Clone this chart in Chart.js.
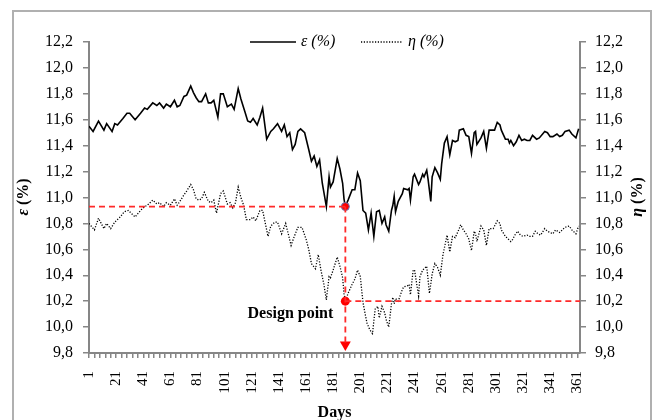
<!DOCTYPE html>
<html lang="en">
<head>
    <meta charset="UTF-8">
    <title>Efficiency over the year</title>
    <script src="https://cdn.jsdelivr.net/npm/chart.js@4"></script>
    <style>
        body { margin: 0; background: #fff; }
        #wrap { position: relative; width: 656px; height: 420px; overflow: hidden; }
        #frame { position: absolute; left: 12px; top: 10px; width: 640px; height: 440px; border: 2px solid #b0b0b0; box-sizing: border-box; }
        #chart { position: absolute; left: 0; top: 0; }
    </style>
</head>
<body>
<div id="wrap">
    <div id="frame"></div>
    <canvas id="chart" width="656" height="420"></canvas>
</div>
<script>
// epsilon (%), by day
const epsDays = [1,4,8,12,14,18,20,22,26,29,31,35,39,42,44,48,51,53,56,58,61,64,66,68,71,73,76,78,80,82,84,87,89,91,93,96,98,100,103,106,108,111,113,116,118,120,122,125,127,129,132,135,137,140,143,145,147,149,151,153,155,157,160,163,165,167,169,171,173,176,178,179,181,184,186,188,189,190,192,195,197,199,201,203,205,207,209,211,213,215,217,219,220,222,224,225,226,227,229,232,233,236,237,238,240,241,244,245,247,248,250,251,253,254,256,258,260,261,263,265,267,269,271,273,274,277,279,281,283,285,286,287,290,292,294,296,298,300,302,304,305,308,310,311,312,314,316,318,320,322,324,326,328,331,333,337,339,341,343,346,348,350,352,355,357,360,362];
const epsVals = [11.55,11.51,11.59,11.52,11.57,11.51,11.57,11.56,11.61,11.65,11.65,11.60,11.65,11.69,11.68,11.73,11.71,11.73,11.69,11.72,11.70,11.75,11.70,11.71,11.78,11.79,11.86,11.81,11.77,11.74,11.74,11.80,11.73,11.73,11.75,11.62,11.80,11.80,11.70,11.72,11.68,11.84,11.76,11.66,11.59,11.58,11.61,11.56,11.62,11.69,11.45,11.51,11.53,11.57,11.51,11.56,11.47,11.50,11.37,11.41,11.51,11.53,11.50,11.37,11.28,11.32,11.24,11.29,11.11,10.93,11.16,11.08,11.12,11.30,11.22,11.11,10.99,10.93,10.98,11.06,11.06,11.19,11.13,10.90,10.88,10.75,10.88,10.70,10.89,10.90,10.80,10.85,10.79,10.74,10.90,10.94,11.01,10.89,10.97,11.03,11.07,11.06,11.07,10.98,11.16,11.18,11.10,11.12,11.18,11.16,11.21,11.14,10.97,11.16,11.23,11.19,11.14,11.26,11.42,11.47,11.33,11.44,11.43,11.44,11.52,11.53,11.48,11.47,11.34,11.50,11.51,11.41,11.46,11.51,11.38,11.52,11.52,11.52,11.58,11.56,11.52,11.45,11.45,11.42,11.44,11.40,11.43,11.48,11.44,11.45,11.44,11.44,11.48,11.45,11.46,11.51,11.50,11.47,11.47,11.49,11.47,11.48,11.51,11.52,11.49,11.46,11.53];

// eta (%), by day
const etaDays = [1,5,8,12,14,17,20,24,27,30,35,39,42,44,48,51,53,56,58,61,64,66,68,71,73,76,78,80,82,84,86,89,91,93,95,98,100,103,105,107,109,111,113,115,117,120,122,124,127,129,131,133,135,138,140,143,146,150,152,155,158,161,163,165,168,170,172,174,176,178,179,181,184,186,188,189,190,192,195,197,199,201,203,205,206,208,210,212,214,215,217,219,220,222,224,225,226,227,229,232,233,236,237,238,240,241,244,245,247,250,252,254,256,258,260,262,265,267,269,271,274,275,277,279,281,283,285,286,287,290,292,294,296,299,300,302,304,305,308,310,312,313,315,317,319,321,324,326,328,330,332,334,337,339,341,343,345,348,350,352,355,357,360,362];
const etaVals = [10.80,10.75,10.84,10.76,10.80,10.76,10.81,10.85,10.89,10.90,10.85,10.90,10.93,10.94,10.98,10.95,10.96,10.93,10.96,10.94,10.99,10.94,10.97,11.02,11.05,11.10,11.06,10.99,10.98,10.99,11.04,10.97,10.96,10.98,10.88,11.03,11.05,10.95,10.96,10.92,10.96,11.08,11.00,10.94,10.83,10.83,10.85,10.82,10.90,10.90,10.80,10.70,10.78,10.81,10.81,10.72,10.80,10.63,10.69,10.77,10.77,10.68,10.60,10.49,10.45,10.56,10.44,10.34,10.21,10.39,10.38,10.44,10.54,10.47,10.38,10.26,10.20,10.26,10.33,10.37,10.44,10.39,10.19,10.08,10.03,9.98,9.95,10.14,10.16,10.07,10.16,10.11,10.06,10.00,10.18,10.23,10.18,10.22,10.20,10.29,10.31,10.32,10.33,10.25,10.44,10.44,10.24,10.39,10.44,10.47,10.26,10.41,10.49,10.46,10.40,10.56,10.71,10.58,10.70,10.69,10.76,10.79,10.75,10.72,10.68,10.59,10.74,10.72,10.66,10.78,10.75,10.63,10.76,10.76,10.78,10.82,10.80,10.75,10.70,10.68,10.66,10.67,10.71,10.74,10.71,10.70,10.71,10.70,10.70,10.74,10.72,10.71,10.76,10.74,10.73,10.72,10.75,10.73,10.75,10.77,10.78,10.75,10.72,10.78];

// design point
const designDay = 190;
const designEps = 10.93;
const designEta = 10.20;

const xTickLabels = [1,21,41,61,81,101,121,141,161,181,201,221,241,261,281,301,321,341,361];
const yTickMin = 9.8, yTickMax = 12.2, yTickStep = 0.2;
const dayMax = 363;

const serif = 'Liberation Serif';
const axisGray = '#868686';
const red = '#ff2a2a';

function pts(xs, ys) { return xs.map((d, i) => ({ x: d, y: ys[i] })); }

const yAxis = (pos, w, pad) => ({
    type: 'linear', position: pos, min: yTickMin, max: yTickMax,
    afterFit: s => { s.width = w; },
    border: { display: true, color: axisGray, width: 2 },
    grid: { drawOnChartArea: false, drawTicks: true, tickLength: 6, color: axisGray, lineWidth: 1.5 },
    ticks: {
        stepSize: yTickStep, padding: pad, color: '#000',
        font: { family: serif, size: 16 },
        callback: v => v.toFixed(1).replace('.', ',')
    }
});

const texts = {
    id: 'texts',
    afterDraw(chart) {
        const ctx = chart.ctx;
        const { x, y } = chart.scales;
        ctx.save();
        // legend
        ctx.strokeStyle = '#000';
        ctx.lineWidth = 1.6;
        ctx.beginPath(); ctx.moveTo(250, 42); ctx.lineTo(296, 42); ctx.stroke();
        ctx.lineWidth = 1.3;
        ctx.setLineDash([1.2, 1.6]);
        ctx.beginPath(); ctx.moveTo(361, 42); ctx.lineTo(402, 42); ctx.stroke();
        ctx.setLineDash([]);
        ctx.fillStyle = '#000';
        ctx.font = 'italic 16px "' + serif + '"';
        ctx.textBaseline = 'middle';
        ctx.textAlign = 'left';
        ctx.fillText('ε (%)', 301, 42);
        ctx.fillText('η (%)', 408, 42);

        // design point label
        ctx.font = 'bold 16px "' + serif + '"';
        ctx.textAlign = 'right';
        ctx.textBaseline = 'alphabetic';
        ctx.fillText('Design point', x.getPixelForValue(designDay) - 12, y.getPixelForValue(designEta) + 16.5);

        // axis titles, reading upwards
        const title = (sym, cx, cy) => {
            ctx.save();
            ctx.translate(cx, cy);
            ctx.rotate(-Math.PI / 2);
            ctx.textBaseline = 'middle';
            ctx.textAlign = 'left';
            ctx.font = 'bold italic 16px "' + serif + '"';
            const w1 = ctx.measureText(sym).width;
            ctx.font = 'bold 16px "' + serif + '"';
            const w2 = ctx.measureText(' (%)').width;
            const x0 = -(w1 + w2) / 2;
            ctx.font = 'bold italic 16px "' + serif + '"';
            ctx.fillText(sym, x0, 0);
            ctx.font = 'bold 16px "' + serif + '"';
            ctx.fillText(' (%)', x0 + w1, 0);
            ctx.restore();
        };
        title('ε', 24, 197);
        title('η', 638, 197);
        ctx.restore();
    }
};

const guide = (data) => ({
    data, borderColor: red, borderWidth: 1.8, borderDash: [6, 4],
    pointRadius: 0, fill: false, yAxisID: 'y', order: 0
});

new Chart(document.getElementById('chart'), {
    type: 'line',
    data: {
        datasets: [
            { label: 'ε (%)', data: pts(epsDays, epsVals), borderColor: '#000', borderWidth: 1.6,
              pointRadius: 0, tension: 0, yAxisID: 'y', order: 2 },
            { label: 'η (%)', data: pts(etaDays, etaVals), borderColor: '#000', borderWidth: 1.3,
              borderDash: [1.2, 1.6], pointRadius: 0, tension: 0, yAxisID: 'y2', order: 2 },
            guide([{ x: 1, y: designEps }, { x: designDay, y: designEps }]),
            guide([{ x: designDay, y: designEps }, { x: designDay, y: 9.865 }]),
            guide([{ x: designDay, y: designEta }, { x: dayMax, y: designEta }]),
            { data: [{ x: designDay, y: designEps }], showLine: false, pointRadius: 4,
              pointBackgroundColor: '#ff0000', pointBorderColor: '#5b7fc0', pointBorderWidth: 1, yAxisID: 'y', order: 0 },
            { data: [{ x: designDay, y: designEta }], showLine: false, pointRadius: 4.5,
              pointBackgroundColor: '#ff0000', pointBorderColor: '#ff0000', pointBorderWidth: 0, yAxisID: 'y', order: 0 },
            { data: [{ x: designDay, y: 9.865 }], showLine: false, pointStyle: 'triangle', pointRotation: 180,
              pointRadius: 6.3, pointBackgroundColor: '#ff0000', pointBorderColor: '#ff0000', pointBorderWidth: 0,
              yAxisID: 'y', order: 0 }
        ]
    },
    options: {
        responsive: false,
        animation: false,
        layout: { padding: { top: 42, left: 0, right: 0, bottom: 0 } },
        plugins: { legend: { display: false }, tooltip: { enabled: false } },
        scales: {
            x: {
                type: 'linear', position: 'bottom', min: 1, max: dayMax,
                afterFit: s => { s.height = 67; },
                afterBuildTicks: s => {
                    const t = [];
                    for (let d = 1; d <= 361; d += 4) t.push({ value: d });
                    s.ticks = t;
                },
                border: { display: true, color: axisGray, width: 2 },
                grid: { drawOnChartArea: false, drawTicks: true, tickLength: 5, color: axisGray, lineWidth: 1.5 },
                ticks: {
                    autoSkip: false, maxRotation: 90, minRotation: 90, padding: 13, color: '#000',
                    font: { family: serif, size: 15 },
                    callback: v => xTickLabels.includes(v) ? String(v) : ''
                },
                title: { display: true, text: 'Days', color: '#000',
                         font: { family: serif, size: 16, weight: 'bold' }, padding: { top: 0, bottom: -2 } }
            },
            y: yAxis('left', 89, 10),
            y2: yAxis('right', 76, 9)
        }
    },
    plugins: [texts]
});
</script>
</body>
</html>
